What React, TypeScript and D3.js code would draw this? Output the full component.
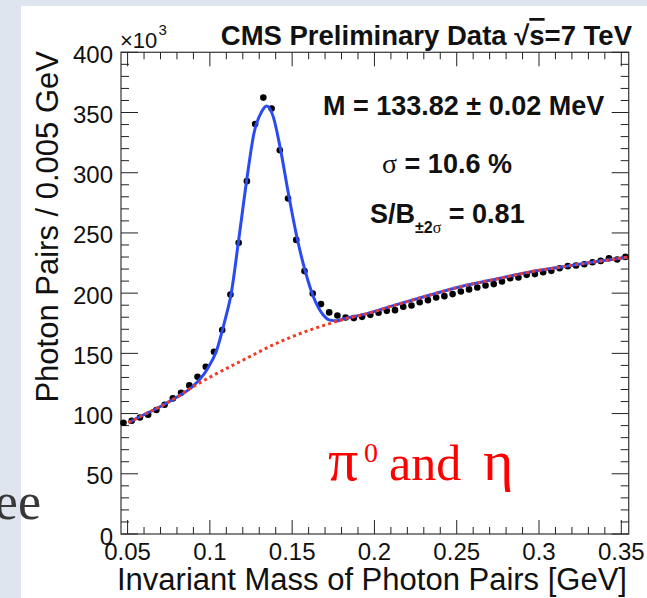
import React from "react";
import * as d3 from "d3";

// ---- data ----
const massX = [
  0.0475, 0.0525, 0.0575, 0.0625, 0.0675, 0.0725, 0.0775, 0.0825, 0.0875, 0.0925,
  0.0975, 0.1025, 0.1075, 0.1125, 0.1175, 0.1225, 0.1275, 0.1325, 0.1375, 0.1425,
  0.1475, 0.1525, 0.1575, 0.1625, 0.1675, 0.1725, 0.1775, 0.1825, 0.1875, 0.1925,
  0.1975, 0.2025, 0.2075, 0.2125, 0.2175, 0.2225, 0.2275, 0.2325, 0.2375, 0.2425,
  0.2475, 0.2525, 0.2575, 0.2625, 0.2675, 0.2725, 0.2775, 0.2825, 0.2875, 0.2925,
  0.2975, 0.3025, 0.3075, 0.3125, 0.3175, 0.3225, 0.3275, 0.3325, 0.3375, 0.3425,
  0.3475, 0.3525,
];
const pairCounts = [
  92.4, 94, 96.8, 99, 103, 107.3, 112.6, 117.3, 123.4, 130.6,
  138.9, 151.3, 169.3, 198.9, 241.8, 293, 340.5, 362.4, 353.3, 318.7,
  278.6, 244.2, 218.3, 199.7, 190.9, 184, 181.5, 179.8, 179.3, 180.3,
  182, 183.7, 185.3, 185.9, 188.7, 189.8, 192.5, 194.2, 196.4, 197.5,
  199.2, 201.4, 203.1, 204.7, 206.4, 207.5, 209.7, 212.4, 213, 215.2,
  215.8, 217.4, 218.5, 220.7, 222.4, 223, 224, 225.7, 226.8, 229,
  228, 230.1,
];

// total fit (signal + background)
const fitX = [
  0.0505, 0.0596, 0.0697, 0.0798, 0.0899, 0.0981, 0.1042, 0.1092, 0.113, 0.1173,
  0.1224, 0.1268, 0.1315, 0.1345, 0.1385, 0.1426, 0.1477, 0.1528, 0.1578, 0.1629,
  0.1689, 0.173, 0.1771, 0.1811, 0.1932, 0.2135, 0.2338, 0.254, 0.2743, 0.2945,
  0.3148, 0.335, 0.3539,
];
const fitY = [
  92.5, 98.8, 105.7, 113.5, 122.9, 136.2, 152.8, 177.7, 200, 242,
  294, 332.8, 350.8, 355.5, 346.6, 321.7, 283, 247, 219, 197,
  181.9, 177.6, 177, 178.6, 182.2, 190.5, 198.5, 206, 211.8, 217.6,
  222, 226.2, 229.8,
];

// background-only fit
const bkgX = [
  0.0505, 0.0596, 0.0697, 0.0798, 0.0899, 0.1001, 0.1203, 0.1406, 0.1608, 0.1711,
  0.1811, 0.1932, 0.2135, 0.2338, 0.254, 0.2743, 0.2945, 0.3148, 0.335, 0.3539,
];
const bkgY = [
  92.5, 98.8, 105.7, 113.5, 122.4, 130.3, 144.5, 158.4, 169.4, 174,
  178.3, 182.2, 190.5, 198.5, 206, 211.8, 217.6, 222, 226.2, 229.8,
];

const xMajorTicks = [0.05, 0.1, 0.15, 0.2, 0.25, 0.3, 0.35];
const xTickLabels = ["0.05", "0.1", "0.15", "0.2", "0.25", "0.3", "0.35"];
const xMinorTicks = [
  0.06, 0.07, 0.08, 0.09, 0.11, 0.12, 0.13, 0.14, 0.16, 0.17, 0.18, 0.19,
  0.21, 0.22, 0.23, 0.24, 0.26, 0.27, 0.28, 0.29, 0.31, 0.32, 0.33, 0.34,
];
const yMajorTicks = [0, 50, 100, 150, 200, 250, 300, 350, 400];
const yTickLabels = ["0", "50", "100", "150", "200", "250", "300", "350", "400"];

const W = 647;
const H = 598;
const SANS = "'Liberation Sans', Arial, Helvetica, sans-serif";
const SERIF = "'Liberation Serif', 'Times New Roman', serif";

export default function App() {
  const L = 121, R = 628.7, T = 52.3, B = 534;
  const x = d3.scaleLinear().domain([0.046, 0.3545]).range([L, R]);
  const y = d3.scaleLinear().domain([0, 400]).range([B, T]);

  const yMinor = d3.range(10, 400, 10).filter((v) => v % 50 !== 0);

  const fitLine = d3
    .line<number>()
    .x((_, i) => x(fitX[i]))
    .y((d) => y(d))
    .curve(d3.curveMonotoneX);
  const bkgLine = d3
    .line<number>()
    .x((_, i) => x(bkgX[i]))
    .y((d) => y(d))
    .curve(d3.curveMonotoneX);

  const tickColor = "#222";

  return (
    <svg
      width={W}
      height={H}
      style={{ position: "fixed", left: 0, top: 0, display: "block" }}
    >
      <rect x={0} y={0} width={W} height={H} fill="#dfe5ef" />
      <rect x={21} y={6} width={W - 21} height={H - 6} fill="#ffffff" />

      {/* slide text fragment */}
      <text
        x={41}
        y={519}
        textAnchor="end"
        fontFamily={SERIF}
        fontSize={52}
        fill="#383838"
      >
        ee
      </text>

      {/* frame */}
      <rect x={L} y={T} width={R - L} height={B - T} fill="none" stroke="#444" strokeWidth={1.3} />

      {/* x ticks bottom & top */}
      {xMajorTicks.map((t) => (
        <g key={"xM" + t}>
          <line x1={x(t)} x2={x(t)} y1={B} y2={B - 14} stroke={tickColor} strokeWidth={1} />
          <line x1={x(t)} x2={x(t)} y1={T} y2={T + 14} stroke={tickColor} strokeWidth={1} />
        </g>
      ))}
      {xMinorTicks.map((t) => (
        <g key={"xm" + t}>
          <line x1={x(t)} x2={x(t)} y1={B} y2={B - 7} stroke={tickColor} strokeWidth={1} />
          <line x1={x(t)} x2={x(t)} y1={T} y2={T + 7} stroke={tickColor} strokeWidth={1} />
        </g>
      ))}
      {/* y ticks left & right */}
      {yMajorTicks.map((t) => (
        <g key={"yM" + t}>
          <line x1={L} x2={L + 17} y1={y(t)} y2={y(t)} stroke={tickColor} strokeWidth={1} />
          <line x1={R} x2={R - 17} y1={y(t)} y2={y(t)} stroke={tickColor} strokeWidth={1} />
        </g>
      ))}
      {yMinor.map((t) => (
        <g key={"ym" + t}>
          <line x1={L} x2={L + 8} y1={y(t)} y2={y(t)} stroke={tickColor} strokeWidth={1} />
          <line x1={R} x2={R - 8} y1={y(t)} y2={y(t)} stroke={tickColor} strokeWidth={1} />
        </g>
      ))}

      {/* tick labels */}
      {xMajorTicks.map((t, i) => (
        <text
          key={"xl" + t}
          x={x(t)}
          y={560}
          textAnchor="middle"
          fontFamily={SANS}
          fontSize={24}
          fill="#111"
        >
          {xTickLabels[i]}
        </text>
      ))}
      {yMajorTicks.map((t, i) => (
        <text
          key={"yl" + t}
          x={113}
          y={y(t) + 10.5}
          textAnchor="end"
          fontFamily={SANS}
          fontSize={24}
          fill="#111"
        >
          {yTickLabels[i]}
        </text>
      ))}

      {/* x10^3 */}
      <text x={120} y={48} fontFamily={SANS} fontSize={22} fill="#111">
        ×10
      </text>
      <text x={158.5} y={35} fontFamily={SANS} fontSize={15} fill="#111">
        3
      </text>

      {/* axis titles */}
      <text
        x={627}
        y={590}
        textAnchor="end"
        fontFamily={SANS}
        fontSize={31}
        fill="#111"
      >
        Invariant Mass of Photon Pairs [GeV]
      </text>
      <text
        transform="translate(58,51) rotate(-90)"
        textAnchor="end"
        fontFamily={SANS}
        fontSize={31}
        fill="#111"
      >
        Photon Pairs / 0.005 GeV
      </text>

      {/* title */}
      <text
        x={632}
        y={45}
        textAnchor="end"
        fontFamily={SANS}
        fontSize={27.5}
        fontWeight="bold"
        fill="#111"
      >
        CMS Preliminary Data √
        <tspan style={{ textDecoration: "overline" }}>s</tspan>=7 TeV
      </text>

      {/* data points */}
      {pairCounts.map((v, i) => (
        <circle key={"p" + i} cx={x(massX[i])} cy={y(v)} r={3.3} fill="#000" />
      ))}

      {/* fits */}
      <path d={fitLine(fitY) || ""} fill="none" stroke="#2a4af2" strokeWidth={3} />
      <path
        d={bkgLine(bkgY) || ""}
        fill="none"
        stroke="#ef3b24"
        strokeWidth={3}
        strokeDasharray="3 3.2"
      />

      {/* fit results */}
      <text x={323} y={115} fontFamily={SANS} fontSize={27} fontWeight="bold" fill="#111">
        M = 133.82 ± 0.02 MeV
      </text>
      <text x={382} y={173} fontFamily={SANS} fontSize={27} fontWeight="bold" fill="#111">
        <tspan fontFamily={SERIF} fontWeight="normal" fontSize={28}>σ</tspan>
        <tspan> = 10.6 %</tspan>
      </text>
      <text x={370} y={223} fontFamily={SANS} fontSize={27} fontWeight="bold" fill="#111">
        <tspan>S/B</tspan>
        <tspan fontSize={16} dy={10}>±2</tspan>
        <tspan fontSize={16} fontFamily={SERIF} fontWeight="normal">σ</tspan>
        <tspan dy={-10}> = 0.81</tspan>
      </text>

      {/* red label */}
      <text y={480} fontFamily={SERIF} fill="#ff0000">
        <tspan x={328} fontSize={60}>π</tspan>
        <tspan x={364} y={462} fontSize={28}>0</tspan>
        <tspan x={389} y={480} fontSize={50}>and</tspan>
        <tspan x={483} y={480} fontSize={58}>η</tspan>
      </text>
    </svg>
  );
}
